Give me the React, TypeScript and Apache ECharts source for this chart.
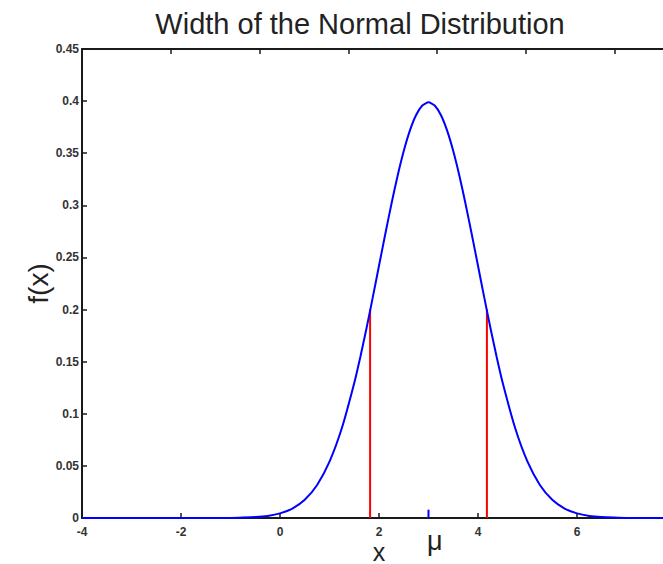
import React, { useEffect, useRef } from "react";
import * as echarts from "echarts";

const titleText = "Width of the Normal Distribution";
const xTicks = { min: -4, max: 8, interval: 2 };
const yTicks = { min: 0, max: 0.45, interval: 0.05 };

// curve
const curveX = [-4, -2, -1, -0.75, -0.5, -0.25, 0, 0.25, 0.5, 0.75, 1, 1.25, 1.5, 1.625, 1.75, 1.875, 2, 2.125, 2.25,
  2.375, 2.5, 2.625, 2.75, 2.875, 3, 3.125, 3.25, 3.375, 3.5, 3.625, 3.75, 3.875, 4, 4.125, 4.25, 4.375, 4.5,
  4.75, 5, 5.25, 5.5, 5.75, 6, 6.25, 6.5, 6.75, 7, 8];
const curveY = [0, 0, 0.0001, 0.0004, 0.0009, 0.002, 0.0044, 0.0091, 0.0175, 0.0317, 0.054, 0.0863, 0.1295, 0.155,
  0.1826, 0.2119, 0.242, 0.272, 0.3011, 0.3282, 0.3521, 0.3719, 0.3867, 0.3958, 0.3989, 0.3958, 0.3867, 0.3719,
  0.3521, 0.3282, 0.3011, 0.272, 0.242, 0.2119, 0.1826, 0.155, 0.1295, 0.0863, 0.054, 0.0317, 0.0175, 0.0091,
  0.0044, 0.002, 0.0009, 0.0004, 0.0001, 0];

const halfMaxX = [1.82, 4.18];
const halfMaxY = 0.2;
const muX = 3;
const muTickHeight = 0.008;

export default function App() {
  const ref = useRef<HTMLDivElement>(null);
  useEffect(() => {
    if (!ref.current) return;
    const chart = echarts.init(ref.current, null, { renderer: "svg" });
    const axisColor = "#1a1a1a";
    const labelStyle = { color: "#333", fontSize: 12, fontWeight: "bold" as const, fontFamily: "Liberation Sans" };
    const series: any[] = [
      {
        type: "line",
        data: curveX.map((x, i) => [x, curveY[i]]),
        showSymbol: false,
        smooth: 0.2,
        lineStyle: { color: "#0000ff", width: 2 },
        itemStyle: { color: "#0000ff" },
        z: 5,
      },
      ...halfMaxX.map((x) => ({
        type: "line",
        data: [[x, 0], [x, halfMaxY]],
        showSymbol: false,
        lineStyle: { color: "#ff0000", width: 2 },
        itemStyle: { color: "#ff0000" },
        z: 4,
      })),
      {
        type: "line",
        data: [[muX, 0], [muX, muTickHeight]],
        showSymbol: false,
        lineStyle: { color: "#0000ff", width: 2 },
        z: 4,
      },
    ];
    chart.setOption({
      animation: false,
      backgroundColor: "#fff",
      title: {
        text: titleText,
        left: 355,
        textAlign: "center",
        top: 4,
        textStyle: { fontFamily: "Liberation Sans", fontSize: 29, fontWeight: "normal", color: "#222" },
      },
      grid: { left: 82, top: 49, right: -13, bottom: 46, outerBoundsMode: "none", containLabel: false },
      xAxis: [
        {
          type: "value",
          min: xTicks.min,
          max: xTicks.max,
          interval: xTicks.interval,
          name: "x",
          nameLocation: "middle",
          nameGap: 21,
          nameMoveOverlap: false,
          nameTextStyle: { fontFamily: "Liberation Sans", fontSize: 25, lineHeight: 25, color: "#222", verticalAlign: "top" },
          axisLine: { show: true, onZero: false, lineStyle: { color: axisColor, width: 2 } },
          axisTick: { show: true, inside: true, length: 5, lineStyle: { color: axisColor, width: 1.5 } },
          axisLabel: { ...labelStyle, margin: 8, showMaxLabel: false },
          splitLine: { show: false },
        },
        {
          type: "value",
          position: "top",
          min: 0,
          max: 6.69,
          interval: 1,
          axisLine: { show: true, onZero: false, lineStyle: { color: axisColor, width: 2 } },
          axisTick: { show: true, inside: true, length: 5, lineStyle: { color: axisColor, width: 1.5 } },
          axisLabel: { show: false },
          splitLine: { show: false },
        },
      ],
      yAxis: {
        type: "value",
        min: yTicks.min,
        max: yTicks.max,
        interval: yTicks.interval,
        name: "f(x)",
        nameLocation: "middle",
        nameRotate: 90,
        nameGap: 30,
        nameMoveOverlap: false,
        nameTextStyle: { fontFamily: "Liberation Sans", fontSize: 28, color: "#222" },
        axisLine: { show: true, onZero: false, lineStyle: { color: axisColor, width: 2 } },
        axisTick: { show: true, inside: true, length: 5, lineStyle: { color: axisColor, width: 1.5 } },
        axisLabel: { ...labelStyle, margin: 3 },
        splitLine: { show: false },
      },
      graphic: [
        {
          type: "text",
          left: 427,
          top: 527,
          style: { text: "μ", fontFamily: "Liberation Sans", fontSize: 27, fill: "#222" },
        },
      ],
      series,
    });
    return () => chart.dispose();
  }, []);
  return (
    <div
      ref={ref}
      style={{ position: "absolute", left: 0, top: 0, width: 663, height: 564 }}
    />
  );
}
